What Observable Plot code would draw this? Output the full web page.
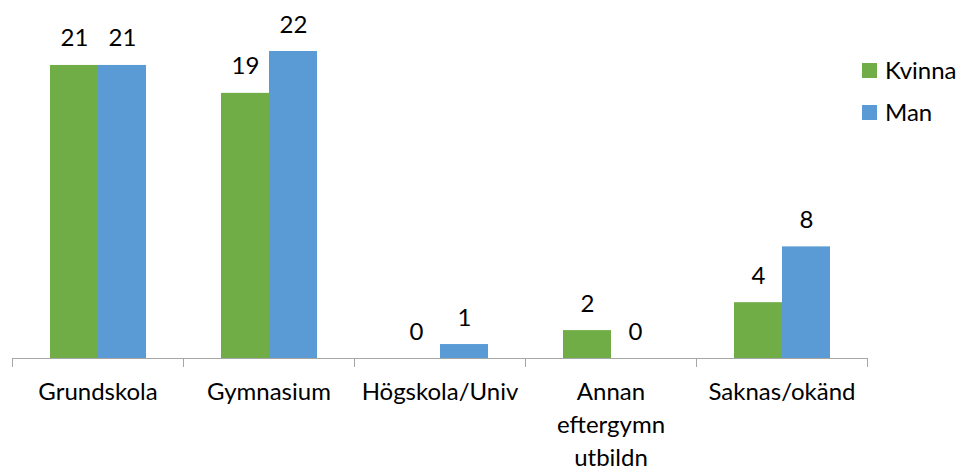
<!DOCTYPE html>
<html><head><meta charset="utf-8">
<script src="https://cdn.jsdelivr.net/npm/d3@7"></script>
<script src="https://cdn.jsdelivr.net/npm/@observablehq/plot@0.6"></script>
<style>
body{margin:0;background:#fff;font-family:Lato,sans-serif}
#wrap{position:relative;width:959px;height:469px}
.lg{position:absolute;left:862px;display:flex;align-items:center;font-size:24px;color:#000;height:24px;line-height:24px}
.lg span.sw{display:inline-block;width:15px;height:15px;margin-right:8px}
</style></head><body><div id="wrap"></div>
<script>
const categories = ["Grundskola","Gymnasium","Högskola/Univ","Annan\neftergymn\nutbildn","Saknas/okänd"];
const series = ["Kvinna","Man"];
const kvinna = [21,19,0,2,4];
const man = [21,22,1,0,8];
const colors = ["#70AD47","#5B9BD5"];

const data = categories.flatMap((c,i)=>[
  {cat:c,sex:series[0],value:kvinna[i]},
  {cat:c,sex:series[1],value:man[i]}
]);

const axisColor = "#A6A6A6";
const plot = Plot.plot({
  width:959,height:469,marginLeft:12,marginRight:92,marginTop:51,marginBottom:111,
  style:{fontFamily:"Lato, sans-serif",fontSize:"24px",color:"#000",background:"#fff"},
  fx:{domain:categories,paddingInner:0,paddingOuter:0,label:null},
  x:{domain:series,paddingInner:0,paddingOuter:0.763,axis:null},
  y:{domain:[0,22],axis:null},
  color:{domain:series,range:colors},
  marks:[
    Plot.barY(data,{fx:"cat",x:"sex",y:"value",fill:"sex",inset:0}),
    Plot.text(data,{fx:"cat",x:"sex",y:"value",text:d=>String(d.value),lineAnchor:"bottom",dy:-19,fontSize:24,fill:"#000"}),
    Plot.ruleY([0],{stroke:axisColor,strokeWidth:1}),
    Plot.frame({anchor:"left",stroke:axisColor,insetTop:307,insetBottom:-8}),
    Plot.frame({anchor:"right",stroke:axisColor,insetTop:307,insetBottom:-8}),
    Plot.axisFx({anchor:"bottom",tickSize:0,tickPadding:18,fontSize:24,lineHeight:1.375,label:null,fill:"#000"})
  ]
});
const wrap = document.getElementById("wrap");
wrap.appendChild(plot);
const cs = plot.scale("color");
const tops = [58,100];
series.forEach((s,i)=>{
  const d = document.createElement("div");
  d.className="lg";
  d.style.top = tops[i]+"px";
  const sw = document.createElement("span");
  sw.className="sw";
  sw.style.background = cs.apply(s);
  d.appendChild(sw);
  d.appendChild(document.createTextNode(s));
  wrap.appendChild(d);
});
</script>
</body></html>
